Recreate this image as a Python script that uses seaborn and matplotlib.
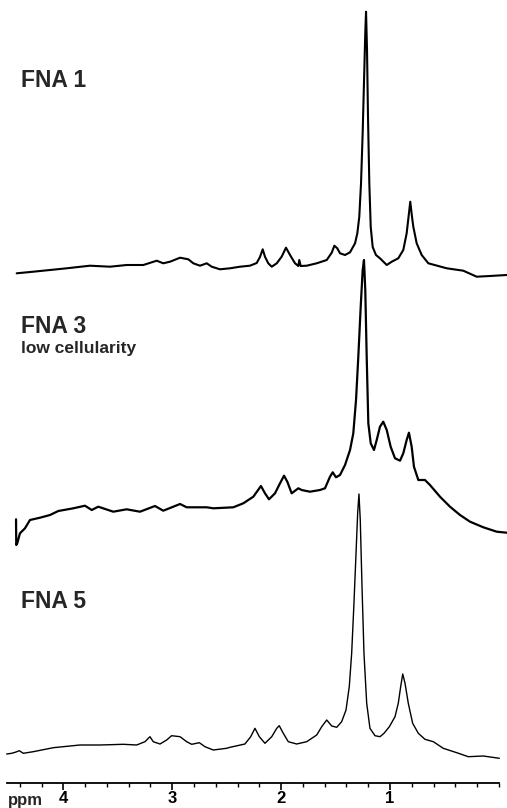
import numpy as np
import pandas as pd
import matplotlib
matplotlib.use("Agg")
import matplotlib.pyplot as plt
from matplotlib.ticker import FixedLocator
import seaborn as sns

# ---------------- data (ppm, intensity in arbitrary units) ----------------
fna1_ppm = [4.428, 4.276, 4.122, 3.969, 3.755, 3.571, 3.418, 3.265, 3.142, 3.082,
            3.020, 2.928, 2.852, 2.806, 2.745, 2.683, 2.637, 2.561, 2.469, 2.377,
            2.286, 2.224, 2.194, 2.169, 2.148, 2.118, 2.086, 2.040, 1.995, 1.955,
            1.918, 1.872, 1.842, 1.833, 1.820, 1.765, 1.673, 1.581, 1.535, 1.511,
            1.484, 1.459, 1.413, 1.367, 1.321, 1.300, 1.282, 1.266, 1.251, 1.239,
            1.227, 1.220, 1.211, 1.202, 1.190, 1.177, 1.159, 1.129, 1.092, 1.030,
            0.984, 0.924, 0.878, 0.847, 0.826, 0.814, 0.798, 0.786, 0.755, 0.709,
            0.648, 0.479, 0.327, 0.204, 0.082, -0.072]
fna1_int = [6.7, 8.3, 10, 11.7, 14.3, 13.3, 15, 15, 19.3, 16.7,
            18.3, 22.3, 20.7, 16.7, 14.3, 16.7, 13.3, 10.7, 11.7, 13.3,
            14.3, 17, 23, 30.7, 23.3, 16.7, 13.3, 16.7, 23.3, 32.3,
            25, 16.7, 14, 20, 14, 14.3, 16.7, 20, 27.3, 34.3,
            31.7, 26.7, 25, 27.7, 36.7, 46.7, 63.3, 97, 147, 197,
            247, 268.3, 230, 163, 97, 53, 33, 25, 21.7, 15,
            18.3, 21.7, 30, 46.7, 66.7, 78.3, 63.3, 53.3, 36.7, 25,
            16.7, 11.7, 9.3, 3.3, 4, 5]

fna3_ppm = [4.434, 4.432, 4.423, 4.398, 4.352, 4.306, 4.214, 4.122, 4.046, 3.908,
            3.801, 3.739, 3.679, 3.541, 3.418, 3.296, 3.158, 3.082, 2.928, 2.867,
            2.683, 2.623, 2.439, 2.347, 2.255, 2.185, 2.148, 2.111, 2.056, 2.010,
            1.973, 1.943, 1.903, 1.842, 1.811, 1.735, 1.643, 1.597, 1.551, 1.526,
            1.496, 1.459, 1.413, 1.367, 1.337, 1.312, 1.291, 1.269, 1.251, 1.239,
            1.227, 1.214, 1.199, 1.177, 1.147, 1.122, 1.092, 1.062, 1.030, 0.994,
            0.954, 0.908, 0.878, 0.847, 0.826, 0.801, 0.780, 0.740, 0.679, 0.633,
            0.541, 0.449, 0.357, 0.265, 0.143, 0.020, -0.072]
fna3_int = [25.7, 0, 1.7, 11.7, 16.7, 25, 27.3, 30, 34, 36.7,
            39.3, 35, 38.3, 33.3, 35.7, 33.3, 39, 34.3, 41, 37.7,
            37.7, 36.7, 37.7, 41.7, 48.3, 59, 51.7, 45.7, 51.7, 61.7,
            69.3, 63.3, 51.7, 56.7, 55, 53.3, 55, 56.7, 68.3, 72.7,
            67.7, 70, 80, 95, 111.7, 145, 188.3, 238.3, 275, 285,
            255, 188.3, 121.7, 101.7, 95, 105, 118.3, 123.3, 115, 98.3,
            86.7, 84.3, 91.7, 105, 112.3, 98.3, 78.3, 65, 65, 60,
            48.3, 38.3, 30, 23.3, 17.7, 13.3, 12.3]

fna5_ppm = [4.520, 4.474, 4.434, 4.404, 4.367, 4.276, 4.092, 3.847, 3.663, 3.449,
            3.326, 3.250, 3.204, 3.174, 3.112, 3.051, 3.005, 2.928, 2.867, 2.821,
            2.751, 2.699, 2.623, 2.500, 2.469, 2.332, 2.279, 2.240, 2.200, 2.148,
            2.086, 2.040, 2.017, 1.980, 1.934, 1.857, 1.765, 1.673, 1.627, 1.581,
            1.535, 1.489, 1.444, 1.404, 1.374, 1.352, 1.331, 1.312, 1.297, 1.285,
            1.273, 1.257, 1.239, 1.214, 1.184, 1.138, 1.092, 1.055, 1.006, 0.954,
            0.924, 0.902, 0.883, 0.862, 0.832, 0.792, 0.740, 0.679, 0.602, 0.511,
            0.387, 0.281, 0.143, -0.004]
fna5_int = [6, 6.7, 8, 9.3, 6.7, 8.3, 12.3, 15, 15, 15.7,
            15, 18.3, 23.3, 18.3, 16, 20, 24.3, 23.3, 18.3, 15.7,
            17.3, 13.3, 10, 11.7, 12.7, 16, 23.3, 31.7, 23.3, 16.7,
            23.3, 31.7, 34.3, 26.7, 18.3, 16, 18.3, 25, 33.3, 40,
            34, 32.7, 38.3, 50, 73.3, 106.7, 156.7, 206.7, 246.7, 266,
            240, 173.3, 106.7, 56.7, 31.7, 24.3, 23.3, 26.7, 33.3, 43.3,
            56.7, 73.3, 86, 76.7, 56.7, 36.7, 26.7, 20.7, 18.3, 11.7,
            7.3, 3.3, 4, 1.7]

labels = ["FNA 1", "FNA 3", "FNA 5"]
sublabel = "low cellularity"
major_ticks = [4, 3, 2, 1]
tick_labels = ["4", "3", "2", "1"]
axis_label = "ppm"

# ---------------- figure ----------------
sns.set_style("ticks")
plt.rcParams["font.family"] = ["Liberation Sans", "DejaVu Sans"]

W, H = 507, 808
fig = plt.figure(figsize=(W / 100, H / 100), dpi=100)
ax = fig.add_axes([0, 25 / H, 1, 783 / H])

px_per_ppm = 108.9
ax.set_xlim(1 + 390 / px_per_ppm, 1 - (W - 390) / px_per_ppm)
ax.set_ylim(0, 783)

offsets = [503, 238, 23]
widths = [1.5, 1.6, 1.0]
for ppm, inten, off, lw in zip([fna1_ppm, fna3_ppm, fna5_ppm],
                               [fna1_int, fna3_int, fna5_int], offsets, widths):
    df = pd.DataFrame({"ppm": ppm, "y": np.asarray(inten) + off})
    sns.lineplot(data=df, x="ppm", y="y", ax=ax, color="black", lw=lw,
                 estimator=None, sort=False, clip_on=False)

ax.set_xlabel("")
ax.set_ylabel("")
ax.set_yticks([])
sns.despine(ax=ax, left=True, top=True, right=True)
ax.spines["bottom"].set_bounds(4.52, 0.0)
ax.spines["bottom"].set_linewidth(1.3)
ax.spines["bottom"].set_color("black")

ax.xaxis.set_major_locator(FixedLocator(major_ticks))
ax.set_xticklabels(tick_labels)
minor = [4.4, 4.2, 3.8, 3.6, 3.4, 3.2, 2.8, 2.6, 2.4, 2.2, 1.8, 1.6, 1.4, 1.2,
         0.8, 0.6, 0.4, 0.2, 0.0]
ax.xaxis.set_minor_locator(FixedLocator(minor))
ax.tick_params(axis="x", which="major", length=5, width=1.2, direction="out",
               pad=0.5, labelsize=12, colors="black")
ax.tick_params(axis="x", which="minor", length=3, width=1.0, direction="out",
               colors="black")
for t in ax.get_xticklabels():
    t.set_fontweight("bold")

def fy(py):
    return 1 - py / H

fig.text(8 / W, fy(805), axis_label, fontsize=12, fontweight="bold",
         va="baseline", ha="left")
fig.text(21 / W, fy(87.3), labels[0], fontsize=16.5, fontweight="bold",
         va="baseline", ha="left")
fig.text(21 / W, fy(333.3), labels[1], fontsize=16.5, fontweight="bold",
         va="baseline", ha="left")
fig.text(21 / W, fy(353), sublabel, fontsize=12.5, fontweight="bold",
         va="baseline", ha="left")
fig.text(21 / W, fy(607.7), labels[2], fontsize=16.5, fontweight="bold",
         va="baseline", ha="left")

fig.savefig("out.png", dpi=100, facecolor="white")
